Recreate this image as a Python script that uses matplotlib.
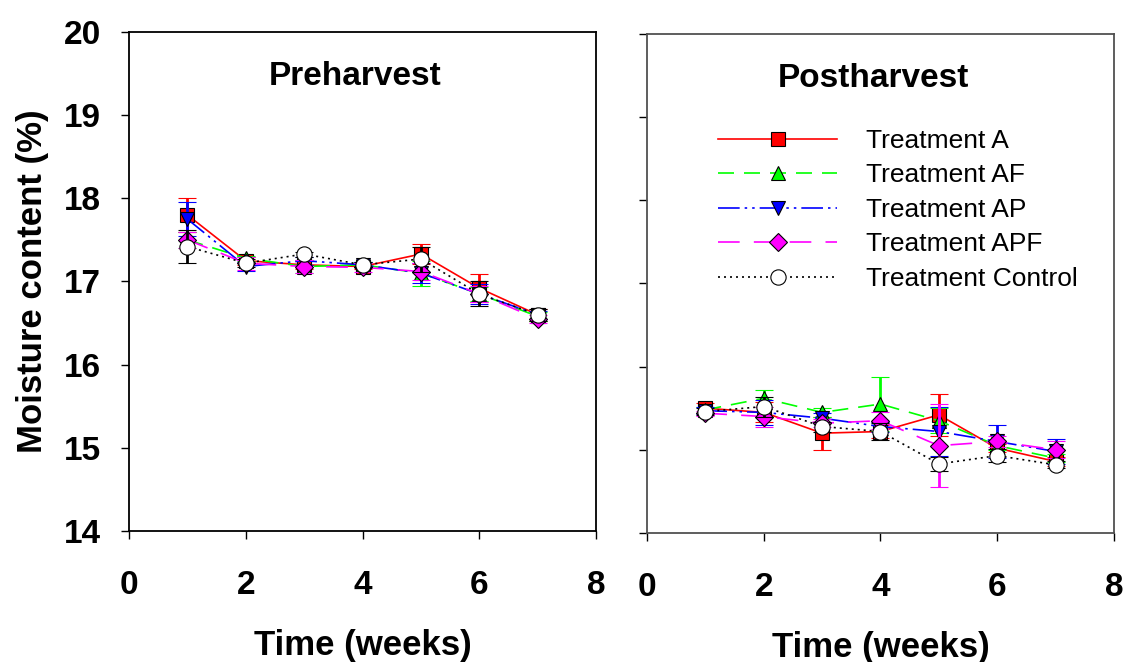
import matplotlib
matplotlib.use("Agg")
import matplotlib.pyplot as plt

plt.rcParams["font.family"] = ["Liberation Sans", "DejaVu Sans"]

# ----------------------------------------------------
# Data
# ----------------------------------------------------
weeks = [1, 2, 3, 4, 5, 6, 7]
labels = ["Treatment A", "Treatment AF", "Treatment AP", "Treatment APF", "Treatment Control"]

pre_A = [17.80, 17.25, 17.20, 17.18, 17.33, 16.92, 16.60]
pre_A_err = [0.20, 0.05, 0.05, 0.03, 0.12, 0.17, 0.07]
pre_AF = [17.50, 17.28, 17.18, 17.20, 17.10, 16.85, 16.58]
pre_AF_err = [0.10, 0.03, 0.08, 0.03, 0.15, 0.08, 0.05]
pre_AP = [17.75, 17.18, 17.25, 17.20, 17.10, 16.85, 16.60]
pre_AP_err = [0.20, 0.05, 0.05, 0.03, 0.12, 0.12, 0.05]
pre_APF = [17.50, 17.22, 17.18, 17.17, 17.12, 16.85, 16.55]
pre_APF_err = [0.10, 0.08, 0.08, 0.05, 0.10, 0.10, 0.05]
pre_C = [17.42, 17.22, 17.33, 17.20, 17.27, 16.85, 16.60]
pre_C_err = [0.20, 0.05, 0.03, 0.03, 0.15, 0.15, 0.07]

post_A = [15.50, 15.45, 15.20, 15.22, 15.42, 15.02, 14.86]
post_A_err = [0.06, 0.12, 0.20, 0.08, 0.25, 0.05, 0.05]
post_AF = [15.48, 15.62, 15.45, 15.55, 15.35, 15.05, 14.90]
post_AF_err = [0.04, 0.10, 0.05, 0.32, 0.15, 0.05, 0.05]
post_AP = [15.47, 15.45, 15.38, 15.28, 15.22, 15.10, 14.98]
post_AP_err = [0.04, 0.15, 0.06, 0.06, 0.30, 0.20, 0.15]
post_APF = [15.44, 15.40, 15.32, 15.35, 15.05, 15.10, 15.00]
post_APF_err = [0.03, 0.12, 0.05, 0.10, 0.50, 0.07, 0.10]
post_C = [15.46, 15.52, 15.28, 15.22, 14.83, 14.93, 14.82]
post_C_err = [0.04, 0.12, 0.06, 0.10, 0.08, 0.08, 0.04]

# ----------------------------------------------------
# Styles
# ----------------------------------------------------
colors = ["#ff0000", "#00ff00", "#0000ff", "#ff00ff", "#000000"]
markers = ["s", "^", "v", "D", "o"]
mfaces = ["#ff0000", "#00ff00", "#0000ff", "#ff00ff", "#ffffff"]
msizes = [9.5, 10, 10, 9.5, 11]
styles = [
    "-",
    (0, (9.6, 6)),
    (0, (13, 3, 1.5, 3, 1.5, 3)),
    (0, (13, 8.5)),
    (0, (1.2, 2.4)),
]


def draw_panel(ax, series, title, spine_color):
    for i, (y, e) in enumerate(series):
        ax.errorbar(weeks, y, yerr=e, color=colors[i], ls=styles[i], lw=1.2,
                    marker=markers[i], ms=msizes[i], mfc=mfaces[i], mec="black",
                    mew=0.8, ecolor=colors[i], elinewidth=2, capsize=6.5,
                    capthick=2.5, label=labels[i], zorder=3 + i)
    ax.set_xlim(0, 8)
    ax.set_ylim(14, 20)
    ax.set_xticks([0, 2, 4, 6, 8])
    ax.set_yticks([14, 15, 16, 17, 18, 19, 20])
    ax.tick_params(direction="out", length=6, width=1, pad=22,
                   labelsize=24, top=False, right=False)
    for s in ax.spines.values():
        s.set_color(spine_color)
        s.set_linewidth(1.3)
    for lab in ax.get_xticklabels() + ax.get_yticklabels():
        lab.set_fontweight("bold")
    ax.text(0.485, 0.91, title, transform=ax.transAxes, ha="center", va="center",
            fontsize=24, fontweight="bold")
    ax.set_xlabel("Time (weeks)", fontsize=25, fontweight="bold", labelpad=20)


fig = plt.figure(figsize=(11.26, 6.62), dpi=100)
ax1 = fig.add_axes([0.1146, 0.1979, 0.4147, 0.7538])
ax2 = fig.add_axes([0.5746, 0.1949, 0.4147, 0.7538])

draw_panel(ax1, [(pre_A, pre_A_err), (pre_AF, pre_AF_err), (pre_AP, pre_AP_err),
                 (pre_APF, pre_APF_err), (pre_C, pre_C_err)], "Preharvest", "black")
draw_panel(ax2, [(post_A, post_A_err), (post_AF, post_AF_err), (post_AP, post_AP_err),
                 (post_APF, post_APF_err), (post_C, post_C_err)], "Postharvest", "#505050")

ax1.tick_params(axis="y", pad=14)
ax1.set_ylabel("Moisture content (%)", fontsize=25, fontweight="bold", labelpad=11)
ax2.set_yticklabels([])

handles, labs = ax2.get_legend_handles_labels()
handles = [h[0] for h in handles]  # line + marker only, no error bars
ax2.legend(handles, labs, loc="upper left", bbox_to_anchor=(0.153, 0.81),
           frameon=False, fontsize=19, handlelength=4.5, handletextpad=1.1,
           labelspacing=0.4, borderpad=0, borderaxespad=0)

fig.savefig("out.png", dpi=100)
